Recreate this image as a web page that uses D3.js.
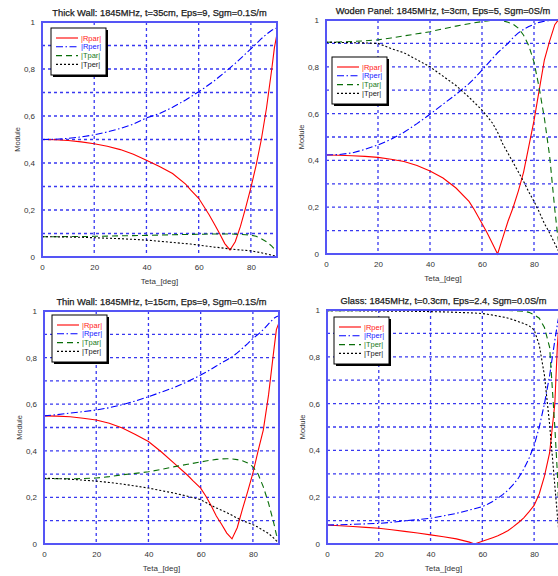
<!DOCTYPE html>
<html><head><meta charset="utf-8">
<script src="https://cdn.jsdelivr.net/npm/d3@7"></script>
<style>
html,body{margin:0;padding:0;background:#fff;}
svg{display:block;font-family:"Liberation Sans",Arial,sans-serif;}
</style></head>
<body>
<svg id="chart" width="558" height="576"></svg>
<script>
// ---------- data ----------
const angles = [0,5,10,15,20,25,30,35,40,45,50,55,57,60,62,64,66,68,70,72,74,76,78,80,82,84,86,88,89,90];
const xTicks = [0,20,40,60,80];
const yTicks = [0,0.2,0.4,0.6,0.8,1];

const thickRpar = [0.50,0.499,0.496,0.49,0.482,0.471,0.457,0.437,0.412,0.385,0.355,0.31,0.285,0.25,0.215,0.18,0.14,0.10,0.057,0.03,0.065,0.13,0.21,0.295,0.39,0.50,0.635,0.80,0.89,0.95];
const thickRper = [0.50,0.501,0.505,0.511,0.52,0.532,0.547,0.565,0.592,0.61,0.637,0.668,0.682,0.703,0.718,0.734,0.75,0.768,0.786,0.805,0.824,0.844,0.865,0.886,0.907,0.929,0.948,0.965,0.97,0.975];
const thickTpar = [0.086,0.086,0.087,0.087,0.088,0.089,0.09,0.091,0.092,0.093,0.095,0.096,0.096,0.097,0.097,0.098,0.098,0.098,0.098,0.098,0.097,0.096,0.095,0.093,0.088,0.078,0.065,0.046,0.034,0.02];
const thickTper = [0.086,0.086,0.085,0.084,0.082,0.08,0.078,0.075,0.072,0.067,0.062,0.057,0.055,0.051,0.048,0.045,0.042,0.04,0.037,0.034,0.032,0.03,0.028,0.026,0.022,0.018,0.013,0.008,0.005,0.003];

const woodRpar = [0.423,0.422,0.42,0.417,0.413,0.405,0.395,0.378,0.355,0.325,0.282,0.225,0.19,0.13,0.09,0.045,0.0,0.07,0.14,0.2,0.27,0.35,0.46,0.57,0.70,0.83,0.91,0.98,0.995,1.0];
const woodRper = [0.423,0.425,0.432,0.447,0.466,0.49,0.52,0.557,0.597,0.64,0.682,0.728,0.75,0.786,0.81,0.835,0.86,0.88,0.9,0.925,0.945,0.96,0.972,0.982,0.99,0.995,0.998,1.0,1.0,1.0];
const woodTpar = [0.905,0.906,0.908,0.911,0.915,0.923,0.932,0.941,0.95,0.962,0.974,0.984,0.988,0.993,0.996,0.999,1.0,0.997,0.99,0.982,0.965,0.935,0.89,0.82,0.71,0.58,0.42,0.19,0.09,0.0];
const woodTper = [0.905,0.904,0.903,0.902,0.9,0.878,0.86,0.83,0.80,0.76,0.72,0.67,0.648,0.615,0.588,0.56,0.52,0.47,0.43,0.39,0.35,0.31,0.265,0.225,0.18,0.13,0.09,0.045,0.022,0.0];

const thinRpar = [0.55,0.549,0.546,0.54,0.532,0.518,0.498,0.47,0.44,0.395,0.345,0.295,0.272,0.24,0.205,0.165,0.12,0.085,0.047,0.022,0.07,0.15,0.225,0.304,0.40,0.49,0.64,0.83,0.92,0.95];
const thinRper = [0.55,0.555,0.562,0.568,0.575,0.585,0.598,0.614,0.632,0.652,0.672,0.697,0.708,0.725,0.737,0.75,0.764,0.777,0.79,0.803,0.82,0.84,0.86,0.882,0.9,0.92,0.945,0.968,0.975,0.98];
const thinTpar = [0.28,0.28,0.28,0.281,0.283,0.289,0.297,0.303,0.31,0.32,0.332,0.342,0.346,0.352,0.356,0.36,0.363,0.365,0.366,0.365,0.362,0.357,0.348,0.332,0.30,0.245,0.175,0.09,0.04,0.01];
const thinTper = [0.282,0.281,0.278,0.274,0.27,0.264,0.257,0.249,0.24,0.229,0.218,0.205,0.199,0.19,0.178,0.166,0.155,0.145,0.135,0.123,0.111,0.10,0.092,0.083,0.072,0.058,0.045,0.025,0.014,0.004];

const glassRpar = [0.081,0.078,0.075,0.071,0.067,0.061,0.054,0.047,0.039,0.031,0.022,0.008,0.0,0.012,0.019,0.027,0.035,0.046,0.058,0.074,0.092,0.112,0.137,0.165,0.215,0.29,0.39,0.6,0.85,1.0];
const glassRper = [0.081,0.082,0.084,0.086,0.088,0.093,0.099,0.104,0.11,0.12,0.131,0.145,0.151,0.16,0.17,0.182,0.196,0.212,0.231,0.255,0.283,0.32,0.365,0.42,0.5,0.6,0.72,0.87,0.94,1.0];
const glassTpar = [0.997,0.997,0.997,0.998,0.998,0.998,0.999,0.999,0.999,1.0,1.0,1.0,1.0,1.0,1.0,0.999,0.999,0.998,0.998,0.997,0.996,0.995,0.99,0.98,0.965,0.925,0.84,0.5,0.3,0.0];
const glassTper = [0.997,0.997,0.997,0.996,0.996,0.995,0.995,0.994,0.993,0.992,0.99,0.988,0.987,0.985,0.982,0.978,0.974,0.97,0.965,0.958,0.95,0.942,0.933,0.915,0.85,0.72,0.51,0.25,0.12,0.0];

const titles = [
  "Thick Wall: 1845MHz, t=35cm, Eps=9, Sgm=0.1S/m",
  "Woden Panel: 1845MHz, t=3cm, Eps=5, Sgm=0S/m",
  "Thin Wall: 1845MHz, t=15cm, Eps=9, Sgm=0.1S/m",
  "Glass: 1845MHz, t=0.3cm, Eps=2.4, Sgm=0.0S/m"
];
const legendLabelsA = ["|Rpar|","|Rper|","|Tpar|","|Tper|"];
const legendLabelsB = ["|Rper|","|Rper|","|Tper|","|Tper|"];
const xLabel = "Teta_[deg]";
const yLabel = "Module";

// ---------- layout / styles ----------
const seriesStyle = [
  {color:"#ff0000", dash:null, w:1.1, text:"#ff2020"},
  {color:"#0000ff", dash:"7,2.5,1.5,2.5", w:1.1, text:"#2020ff"},
  {color:"#0a6e0a", dash:"6,4", w:1.1, text:"#1a7a1a"},
  {color:"#000000", dash:"2,2", w:1.1, text:"#222"}
];

const panels = [
  {title:titles[0], labels:legendLabelsA, series:[thickRpar,thickRper,thickTpar,thickTper],
   l:42, r:277, t:22, b:257, lgx:51, lgy:28},
  {title:titles[1], labels:legendLabelsA, series:[woodRpar,woodRper,woodTpar,woodTper],
   l:326, r:560, t:20, b:254, lgx:332, lgy:57},
  {title:titles[2], labels:legendLabelsA, series:[thinRpar,thinRper,thinTpar,thinTper],
   l:44, r:279, t:311, b:544, lgx:52, lgy:315},
  {title:titles[3], labels:legendLabelsB, series:[glassRpar,glassRper,glassTpar,glassTper],
   l:327, r:560, t:310, b:544, lgx:334, lgy:317}
];

const svg = d3.select("#chart");
const gridColor = "#3838f0";
const frameColor = "#5555f5";
const fmt = d => d === 0 ? "0" : d === 1 ? "1" : String(d).replace(".", ",");

panels.forEach((p, i) => {
  const g = svg.append("g");
  const x = d3.scaleLinear().domain([0, 90]).range([p.l, p.r]);
  const y = d3.scaleLinear().domain([0, 1]).range([p.b, p.t]);
  const clipId = "clip" + i;
  svg.append("clipPath").attr("id", clipId).append("rect")
    .attr("x", p.l).attr("y", p.t - 2).attr("width", p.r - p.l).attr("height", p.b - p.t + 4);

  // grid
  const gridY = d3.range(1, 10).map(v => v / 10);
  g.selectAll(".gy").data(gridY).join("line")
    .attr("x1", p.l).attr("x2", p.r).attr("y1", d => y(d)).attr("y2", d => y(d))
    .attr("stroke", gridColor).attr("stroke-width", 1.3).attr("stroke-dasharray", "3,3");
  g.selectAll(".gx").data(xTicks.filter(d => d > 0)).join("line")
    .attr("y1", p.t).attr("y2", p.b).attr("x1", d => x(d)).attr("x2", d => x(d))
    .attr("stroke", gridColor).attr("stroke-width", 1.3).attr("stroke-dasharray", "3,3");

  // series
  const line = d3.line().x((d, k) => x(angles[k])).y(d => y(d));
  const sg = g.append("g").attr("clip-path", `url(#${clipId})`);
  p.series.forEach((s, k) => {
    const st = seriesStyle[k];
    sg.append("path").datum(s).attr("d", line).attr("fill", "none")
      .attr("stroke", st.color).attr("stroke-width", st.w)
      .attr("stroke-dasharray", st.dash);
  });

  // frame
  g.append("rect").attr("x", p.l).attr("y", p.t).attr("width", p.r - p.l).attr("height", p.b - p.t)
    .attr("fill", "none").attr("stroke", frameColor).attr("stroke-width", 2);

  // axes labels via d3 axes
  const ax = g.append("g").attr("transform", `translate(0,${p.b + 4})`)
    .call(d3.axisBottom(x).tickValues(xTicks).tickSize(0).tickFormat(d => d));
  ax.select(".domain").remove();
  ax.selectAll("text").attr("font-size", 8).attr("fill", "#333").attr("font-family", "Liberation Sans, Arial");

  const ay = g.append("g").attr("transform", `translate(${p.l - 4},0)`)
    .call(d3.axisLeft(y).tickValues(yTicks).tickSize(0).tickFormat(fmt));
  ay.select(".domain").remove();
  ay.selectAll("text").attr("font-size", 8).attr("fill", "#333").attr("font-family", "Liberation Sans, Arial");

  // title
  g.append("text").attr("x", (p.l + p.r) / 2).attr("y", p.t - 6)
    .attr("text-anchor", "middle").attr("font-size", 9.3).attr("fill", "#1a1a1a")
    .attr("stroke", "#1a1a1a").attr("stroke-width", 0.25)
    .text(p.title);
  // x label
  g.append("text").attr("x", (p.l + p.r) / 2).attr("y", p.b + 27)
    .attr("text-anchor", "middle").attr("font-size", 8).attr("fill", "#333").text(xLabel);
  // y label
  g.append("text").attr("transform", `translate(${p.l - 22},${(p.t + p.b) / 2}) rotate(-90)`)
    .attr("text-anchor", "middle").attr("font-size", 7.5).attr("fill", "#333").text(yLabel);

  // legend
  const lg = g.append("g").attr("transform", `translate(${p.lgx},${p.lgy})`);
  lg.append("rect").attr("x", 2).attr("y", 2).attr("width", 55).attr("height", 47).attr("fill", "#000");
  lg.append("rect").attr("x", 0).attr("y", 0).attr("width", 55).attr("height", 47)
    .attr("fill", "#fff").attr("stroke", "#000").attr("stroke-width", 1);
  p.labels.forEach((lab, k) => {
    const st = seriesStyle[k];
    const yy = 10 + k * 8.8;
    lg.append("line").attr("x1", 5).attr("x2", 27).attr("y1", yy).attr("y2", yy)
      .attr("stroke", st.color).attr("stroke-width", 1.1).attr("stroke-dasharray", st.dash);
    lg.append("text").attr("x", 30).attr("y", yy + 2.6).attr("font-size", 7.5)
      .attr("fill", st.text).text(lab);
  });
});
</script>
</body></html>
